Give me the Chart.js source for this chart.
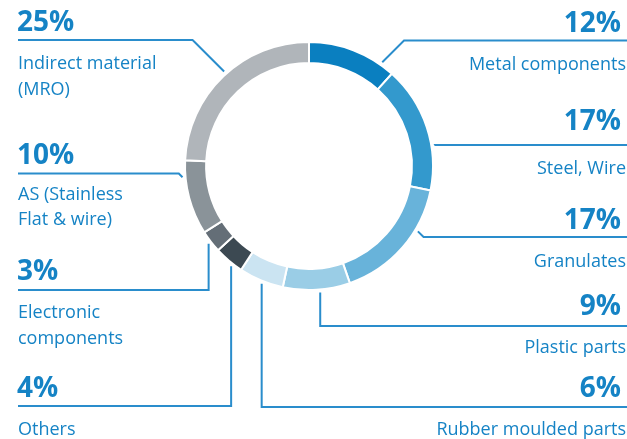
<!DOCTYPE html>
<html>
<head>
<meta charset="utf-8">
<script src="https://cdn.jsdelivr.net/npm/chart.js@4/dist/chart.umd.min.js"></script>
<style>
  html, body { margin: 0; padding: 0; background: #ffffff; }
  canvas { display: block; }
</style>
</head>
<body>
<canvas id="c" width="627" height="439"></canvas>
<script>
// ---- data ----
const categories = [
  'Metal components', 'Steel, Wire', 'Granulates', 'Plastic parts',
  'Rubber moulded parts', 'Others', 'Electronic components',
  'AS (Stainless Flat & wire)', 'Indirect material (MRO)'
];
const shares = [12, 17, 17, 9, 6, 4, 3, 10, 25];
const labelLines = [
  ['Metal components'], ['Steel, Wire'], ['Granulates'], ['Plastic parts'],
  ['Rubber moulded parts'], ['Others'], ['Electronic', 'components'],
  ['AS (Stainless', 'Flat & wire)'], ['Indirect material', '(MRO)']
];
const sliceColors = [
  '#0a7fc0', '#3399cd', '#68b3da', '#9acde6', '#cbe4f2',
  '#3c4952', '#646e77', '#8a9399', '#b0b5ba'
];

// ---- annotation layout (label placement, not data) ----
const callouts = [
  { side: 'R', type: 'diag', frac: 0.84, lineY: 40.5, pctY: 32,  textY: [70] },
  { side: 'R', type: 'diag', frac: 0.65, lineY: 145, pctY: 130, textY: [174] },
  { side: 'R', type: 'diag', frac: 0.33, lineY: 237, pctY: 229, textY: [267] },
  { side: 'R', type: 'vert', frac: 0.45, lineY: 326, pctY: 315, textY: [353] },
  { side: 'R', type: 'vert', frac: 0.46, lineY: 407, pctY: 397, textY: [435] },
  { side: 'L', type: 'vert', frac: 0.33, lineY: 406, pctY: 397, textY: [435] },
  { side: 'L', type: 'vert', frac: 0.48, lineY: 290, pctY: 280, textY: [318, 344] },
  { side: 'L', type: 'diag', frac: 0.78, lineY: 173.5, pctY: 164, textY: [200, 225] },
  { side: 'L', type: 'diag', frac: 0.52, lineY: 40, pctY: 31,  textY: [69, 95] }
];

const TEXT_BLUE = '#1583c5';
const LINE_BLUE = '#2a8dcc';

const calloutPlugin = {
  id: 'callouts',
  afterDraw(chart) {
    const ctx = chart.ctx;
    const meta = chart.getDatasetMeta(0);
    const W = chart.width;
    ctx.save();
    meta.data.forEach((arc, i) => {
      const c = callouts[i];
      const p = arc.getProps(['x', 'y', 'startAngle', 'endAngle', 'outerRadius'], true);
      const a = p.startAngle + c.frac * (p.endAngle - p.startAngle);
      const r = p.outerRadius + 3;
      const ax = p.x + r * Math.cos(a);
      const ay = p.y + r * Math.sin(a);
      const dir = c.side === 'R' ? 1 : -1;
      const edge = c.side === 'R' ? W : 18;
      ctx.beginPath();
      ctx.strokeStyle = LINE_BLUE;
      ctx.lineWidth = 2;
      ctx.moveTo(ax, ay);
      if (c.type === 'diag') {
        const ex = ax + dir * Math.abs(c.lineY - ay);
        ctx.lineTo(ex, c.lineY);
      } else {
        ctx.lineTo(ax, c.lineY);
      }
      ctx.lineTo(edge, c.lineY);
      ctx.stroke();

      // texts
      ctx.fillStyle = TEXT_BLUE;
      ctx.textBaseline = 'alphabetic';
      ctx.textAlign = c.side === 'R' ? 'right' : 'left';
      const tx = c.side === 'R' ? 626 : 18;
      ctx.font = 'bold 28px "Open Sans"';
      ctx.fillText(shares[i] + '%', c.side === 'R' ? 621 : 17, c.pctY);
      ctx.font = '18px "Open Sans"';
      labelLines[i].forEach((t, k) => ctx.fillText(t, tx, c.textY[k]));
    });
    ctx.restore();
  }
};

new Chart(document.getElementById('c'), {
  type: 'doughnut',
  data: {
    labels: categories,
    datasets: [{
      data: shares,
      backgroundColor: sliceColors,
      borderColor: '#ffffff',
      borderWidth: 2,
      hoverOffset: 0
    }]
  },
  options: {
    responsive: false,
    animation: false,
    cutout: '83%',
    layout: { padding: { left: 184, right: 193, top: 41, bottom: 148 } },
    plugins: { legend: { display: false }, tooltip: { enabled: false } },
    events: []
  },
  plugins: [calloutPlugin]
});
</script>
</body>
</html>
